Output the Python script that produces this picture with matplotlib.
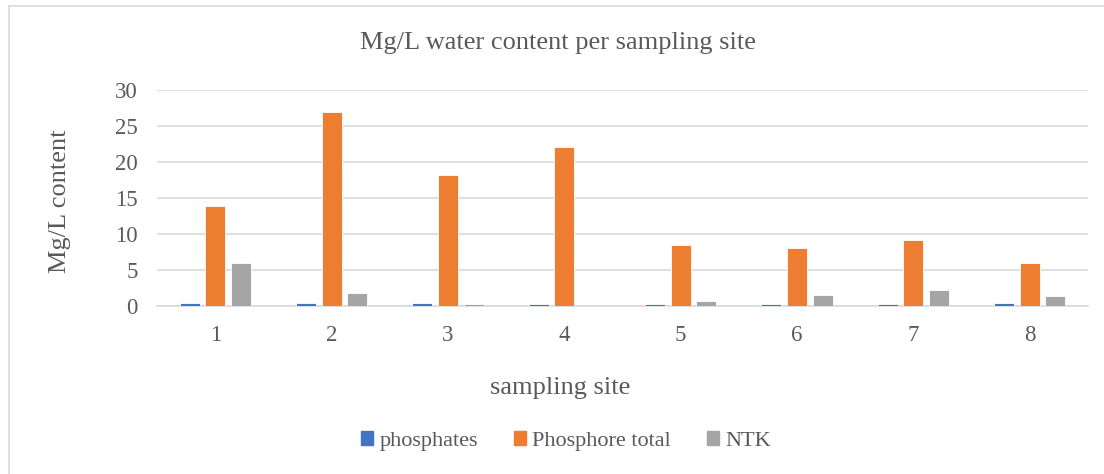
import matplotlib
matplotlib.use('Agg')
import matplotlib.pyplot as plt
import numpy as np
from matplotlib.lines import Line2D

# Données
sites = ['1', '2', '3', '4', '5', '6', '7', '8']
phosphates = [0.4, 0.4, 0.35, 0.25, 0.3, 0.25, 0.25, 0.35]
phosphore_total = [13.9, 27.0, 18.2, 22.1, 8.5, 8.1, 9.1, 6.0]
ntk = [6.0, 1.8, 0.25, 0.0, 0.65, 1.5, 2.2, 1.45]

series = ['phosphates', 'Phosphore total', 'NTK']
couleurs = ['#4472C4', '#ED7D31', '#A5A5A5']
texte = '#595959'

plt.rcParams['font.family'] = ['Liberation Serif', 'DejaVu Serif']

fig = plt.figure(figsize=(11.04, 4.74), dpi=100)
ax = fig.add_axes([157 / 1104, 1 - 306 / 474, (1088 - 157) / 1104, (306 - 90) / 474])

x = np.arange(len(sites))
largeur = 0.172
decalage = 0.22
for i, (vals, nom) in enumerate(zip([phosphates, phosphore_total, ntk], series)):
    ax.bar(x + (i - 1) * decalage, vals, width=largeur, color=couleurs[i],
           label=nom, zorder=3, edgecolor='white', linewidth=0.6)

ax.set_xlim(-0.5, len(sites) - 0.5)
ax.set_ylim(0, 30)
ax.set_yticks(range(0, 31, 5))
ax.set_xticks(x)
ax.set_xticklabels(sites)
ax.yaxis.grid(True, color='#D9D9D9', linewidth=1.2, zorder=0)
for s in ['top', 'right', 'left']:
    ax.spines[s].set_visible(False)
ax.spines['bottom'].set_color('#D9D9D9')
ax.spines['bottom'].set_linewidth(1.2)
ax.tick_params(axis='both', length=0, labelsize=16.5, colors=texte)
ax.tick_params(axis='x', pad=14)
ax.tick_params(axis='y', pad=14)

# Titres
fig.text(60 / 1104, 1 - 201 / 474, 'Mg/L content', fontsize=19, color=texte,
         ha='center', va='center', rotation=90)
fig.text(560 / 1104, 1 - 388 / 474, 'sampling site', fontsize=19, color=texte,
         ha='center', va='center')
fig.text(558 / 1104, 1 - 43 / 474, 'Mg/L water content per sampling site',
         fontsize=19, color=texte, ha='center', va='center')

handles = [plt.Rectangle((0, 0), 1, 1, color=c) for c in couleurs]
fig.legend(handles, series, loc='center', bbox_to_anchor=(566 / 1104, 1 - 441 / 474),
           ncol=3, frameon=False, fontsize=16, labelcolor=texte,
           handlelength=0.55, handleheight=0.55, handletextpad=0.3, columnspacing=1.6)

# Bordure du cadre (haut et gauche)
fig.add_artist(Line2D([9 / 1104, 9 / 1104], [0, 1 - 6 / 474], color='#D9D9D9', linewidth=1.2))
fig.add_artist(Line2D([9 / 1104, 1], [1 - 6 / 474, 1 - 6 / 474], color='#D9D9D9', linewidth=1.2))

fig.savefig('out.png', dpi=100)
